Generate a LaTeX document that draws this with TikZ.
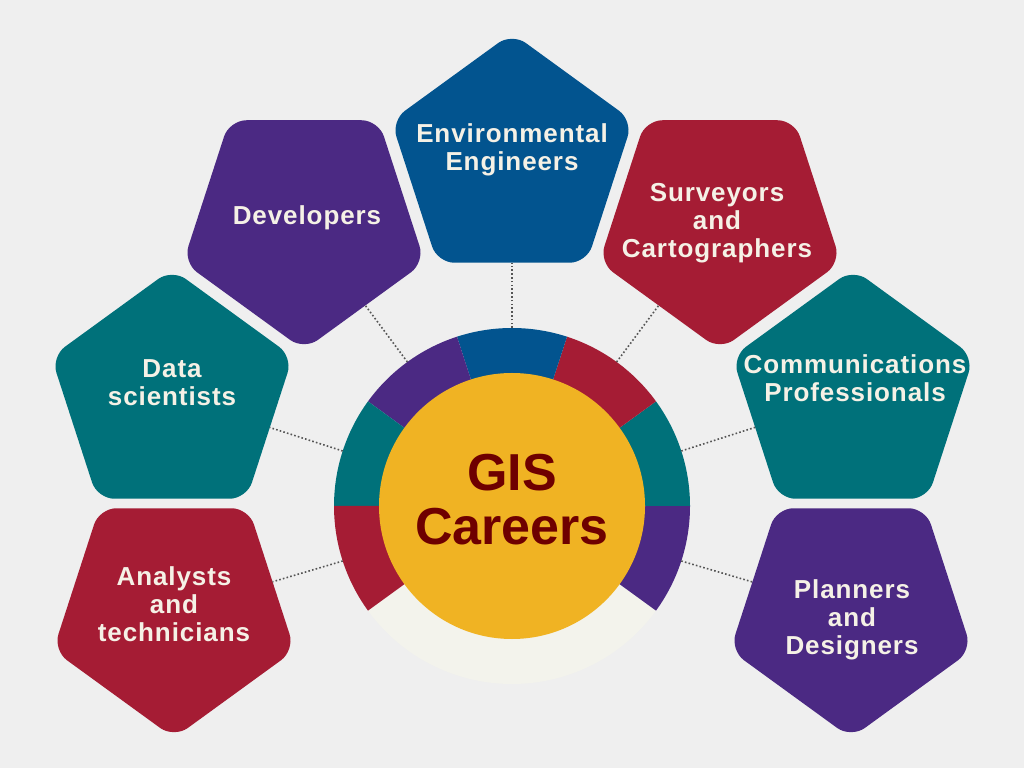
\documentclass[tikz,border=0pt]{standalone}
\usepackage{fontspec}
\setmainfont{Liberation Sans}
\usetikzlibrary{shapes.geometric,calc}
\definecolor{bggray}{HTML}{EFEFEF}
\definecolor{gisblue}{HTML}{02548F}
\definecolor{gispurple}{HTML}{4B2983}
\definecolor{gisred}{HTML}{A51C34}
\definecolor{gisteal}{HTML}{00717A}
\definecolor{gisgold}{HTML}{F0B323}
\definecolor{gisshell}{HTML}{F3F3EC}
\definecolor{giscream}{HTML}{F5F1E6}
\definecolor{gismaroon}{HTML}{6E0000}
\definecolor{gisdots}{HTML}{555555}
\begin{document}
\begin{tikzpicture}[x=1pt,y=1pt,
  penta/.style={regular polygon,regular polygon sides=5,minimum size=254pt,inner sep=0pt,outer sep=0pt,rounded corners=17pt},
  pentadown/.style={penta,shape border rotate=180},
  career/.style={text=giscream,font=\fontsize{26}{28}\selectfont\bfseries\addfontfeature{LetterSpace=3.5},align=center},
  link/.style={gisdots,line width=1.6pt,dash pattern=on 1.6pt off 2.2pt}]
\fill[bggray] (0,0) rectangle (1024,768);
\useasboundingbox (0,0) rectangle (1024,768);

% ring round the hub
\coordinate (hub) at (512,262);
\fill[gisshell] (hub) -- ++(216:178) arc[start angle=216,end angle=324,radius=178] -- cycle;
\fill[gispurple] (hub) -- ++(324:178) arc[start angle=324,end angle=360,radius=178] -- cycle;
\fill[gisteal] (hub) -- ++(0:178) arc[start angle=0,end angle=36,radius=178] -- cycle;
\fill[gisred] (hub) -- ++(36:178) arc[start angle=36,end angle=72,radius=178] -- cycle;
\fill[gisblue] (hub) -- ++(72:178) arc[start angle=72,end angle=108,radius=178] -- cycle;
\fill[gispurple] (hub) -- ++(108:178) arc[start angle=108,end angle=144,radius=178] -- cycle;
\fill[gisteal] (hub) -- ++(144:178) arc[start angle=144,end angle=180,radius=178] -- cycle;
\fill[gisred] (hub) -- ++(180:178) arc[start angle=180,end angle=216,radius=178] -- cycle;
\node[circle,fill=gisgold,minimum size=266pt,inner sep=0pt] (gis) at (hub) {};
\node[text=gismaroon,font=\fontsize{52}{54}\selectfont\bfseries,align=center] (gistext) at (512,268) {GIS\\Careers};

% pentagons
\node[penta,fill=gisblue] (env) at (512,608) {};
\node[career] (envtext) at (512,618) {Environmental\\Engineers};
\node[pentadown,fill=gispurple] (dev) at (304,545) {};
\node[career] (devtext) at (307,550) {Developers};
\node[pentadown,fill=gisred] (surv) at (720,545) {};
\node[career] (survtext) at (717,545) {Surveyors\\and\\Cartographers};
\node[penta,fill=gisteal] (data) at (172,372) {};
\node[career] (datatext) at (172,385) {Data\\scientists};
\node[penta,fill=gisteal] (comm) at (853,372) {};
\node[career] (commtext) at (855,390) {Communications\\Professionals};
\node[pentadown,fill=gisred] (anal) at (174,157) {};
\node[career] (analtext) at (174,164) {Analysts\\and\\technicians};
\node[pentadown,fill=gispurple] (plan) at (851,157) {};
\node[career] (plantext) at (852,148) {Planners\\and\\Designers};

% dotted links
\draw[link] ($(hub)+(90:178)$) -- (env);
\draw[link] ($(hub)+(126:178)$) -- (dev);
\draw[link] ($(hub)+(54:178)$) -- (surv);
\draw[link] ($(hub)+(162:178)$) -- (data);
\draw[link] ($(hub)+(18:178)$) -- (comm);
\draw[link] ($(hub)+(198:178)$) -- (anal);
\draw[link] ($(hub)+(342:178)$) -- (plan);
\end{tikzpicture}
\end{document}
